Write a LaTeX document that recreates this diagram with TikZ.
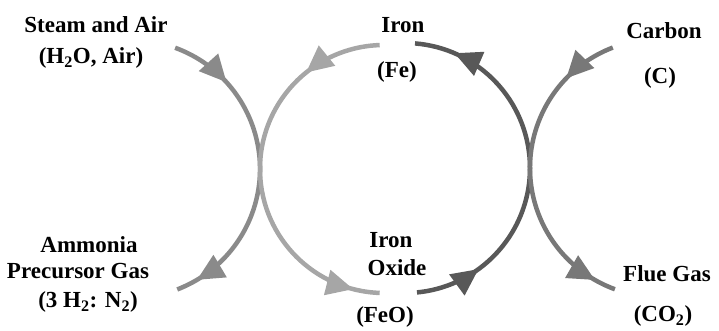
\documentclass[tikz,border=0pt]{standalone}
\usepackage{fontspec}
\setmainfont{Liberation Serif}
\usetikzlibrary{arrows.meta,decorations.markings,calc}
\definecolor{steamgray}{RGB}{138,138,138}
\definecolor{ironlight}{RGB}{166,166,166}
\definecolor{irondark}{RGB}{88,88,88}
\definecolor{carbongray}{RGB}{120,120,120}
\tikzset{
  lbl/.style={font=\fontsize{23}{25}\selectfont\bfseries,inner sep=0pt},
  loopline/.style={line width=4.5pt},
  tips/.style 2 args={postaction={decorate,decoration={markings,
    mark=at position #1 with {\arrow{Triangle[length=27pt,width=25pt]}},
    mark=at position #2 with {\arrow{Triangle[length=27pt,width=25pt]}}}}}
}
\begin{document}
\begin{tikzpicture}[x=1pt,y=1pt]
  \useasboundingbox (0,0) rectangle (719,330);
  % centres of the four arcs
  \coordinate (cSteam) at (131,161);
  \coordinate (cFeL) at (384,161);
  \coordinate (cFeR) at (405,162);
  \coordinate (cCarb) at (659,162);
  \coordinate (steamIn) at ($(cSteam)+(70:129)$);
  \coordinate (ironOut) at ($(cFeL)+(92:124)$);
  \coordinate (oxideOut) at ($(cFeR)+(-84.5:125)$);
  \coordinate (carbIn) at ($(cCarb)+(111:129)$);
  % labels
  \node[lbl] (steam) at (96,305) {Steam and Air};
  \node[lbl] (steamf) at (91,272) {(H\textsubscript{2}O, Air)};
  \node[lbl] (iron) at (403,305) {Iron};
  \node[lbl] (ironf) at (397,258) {(Fe)};
  \node[lbl] (carbon) at (664,299) {Carbon};
  \node[lbl] (carbonf) at (660,252) {(C)};
  \node[lbl] (ammonia) at (89,85) {Ammonia};
  \node[lbl] (precursor) at (78,59) {Precursor Gas};
  \node[lbl] (precursorf) at (88,28) {(3 H\textsubscript{2}: N\textsubscript{2})};
  \node[lbl] (oxide1) at (391,90) {Iron};
  \node[lbl] (oxide2) at (397,62) {Oxide};
  \node[lbl] (oxidef) at (385,13) {(FeO)};
  \node[lbl] (flue) at (667,56) {Flue Gas};
  \node[lbl] (fluef) at (663,14) {(CO\textsubscript{2})};
  % arcs
  \draw[loopline,steamgray,tips={0.2}{0.93}] (steamIn) arc[start angle=70,end angle=-69,radius=129];
  \draw[loopline,ironlight,tips={0.21}{0.93}] (ironOut) arc[start angle=92,end angle=268,radius=124];
  \draw[loopline,irondark,tips={0.18}{0.89}] (oxideOut) arc[start angle=-84.5,end angle=85.4,radius=125];
  \draw[loopline,carbongray,tips={0.18}{0.93}] (carbIn) arc[start angle=111,end angle=250,radius=129];
\end{tikzpicture}
\end{document}
